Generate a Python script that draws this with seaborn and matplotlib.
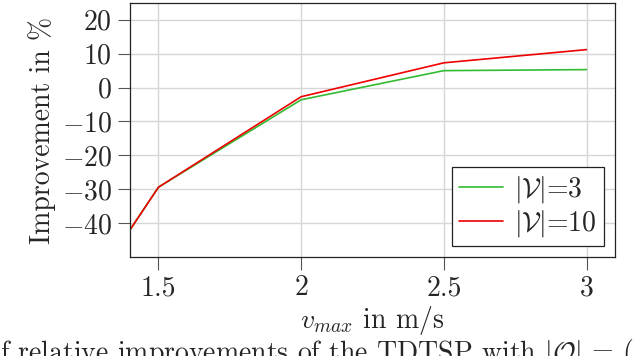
import matplotlib
matplotlib.use("Agg")
import matplotlib.pyplot as plt
import pandas as pd
import seaborn as sns

v_max = [1.4, 1.5, 2.0, 2.5, 3.0]
impr_v3 = [-42.0, -29.4, -3.6, 5.0, 5.3]
impr_v10 = [-42.0, -29.4, -2.7, 7.3, 11.2]
labels = [r"$|\mathcal{V}|$=3", r"$|\mathcal{V}|$=10"]
x_ticks = [1.5, 2.0, 2.5, 3.0]
x_tick_labels = ["1.5", "2", "2.5", "3"]
y_ticks = [-40, -30, -20, -10, 0, 10, 20]

FS = 20

df = pd.concat([
    pd.DataFrame({"v": v_max, "impr": impr_v3, "series": labels[0]}),
    pd.DataFrame({"v": v_max, "impr": impr_v10, "series": labels[1]}),
])

sns.set_theme(style="whitegrid")
plt.rcParams["font.family"] = ["cmr10", "DejaVu Serif"]
plt.rcParams["mathtext.fontset"] = "cm"
plt.rcParams["axes.formatter.use_mathtext"] = True
plt.rcParams["axes.unicode_minus"] = True

fig = plt.figure(figsize=(6.4, 3.56), dpi=100)
ax = fig.add_axes([0.203, 0.278, 0.758, 0.714])

sns.lineplot(data=df, x="v", y="impr", hue="series",
             palette=["#33bb33", "#ee0000"], lw=1.2, ax=ax)

ax.set_xlim(1.4, 3.1)
ax.set_ylim(-50, 25)
ax.set_xticks(x_ticks, x_tick_labels)
ax.set_yticks(y_ticks)
ax.tick_params(axis="both", labelsize=FS, length=9, width=0.8,
               color="#555555", direction="out", pad=4)
ax.tick_params(axis="x", bottom=True)
ax.tick_params(axis="y", left=True)
ax.grid(True, color="#d6d6d6", lw=1.0)
for s in ax.spines.values():
    s.set_color("#222222")
    s.set_linewidth(0.9)

ax.set_xlabel(r"$v_{max}$ in m/s", fontsize=FS, labelpad=2)
ax.set_ylabel("Improvement in %", fontsize=FS, labelpad=4)

leg = ax.legend(loc="lower right", fontsize=FS, frameon=True, fancybox=False,
                handlelength=1.6, borderpad=0.25, labelspacing=0.1,
                handletextpad=0.4, borderaxespad=0.4)
leg.get_frame().set_edgecolor("#222222")
leg.get_frame().set_linewidth(0.9)
leg.get_frame().set_alpha(1)

fig.text(0.0, -0.04, r"f relative improvements of the TDTSP with $|\mathcal{O}|$ = (",
         fontsize=FS, ha="left", va="bottom")

fig.savefig("out.png", dpi=100)
